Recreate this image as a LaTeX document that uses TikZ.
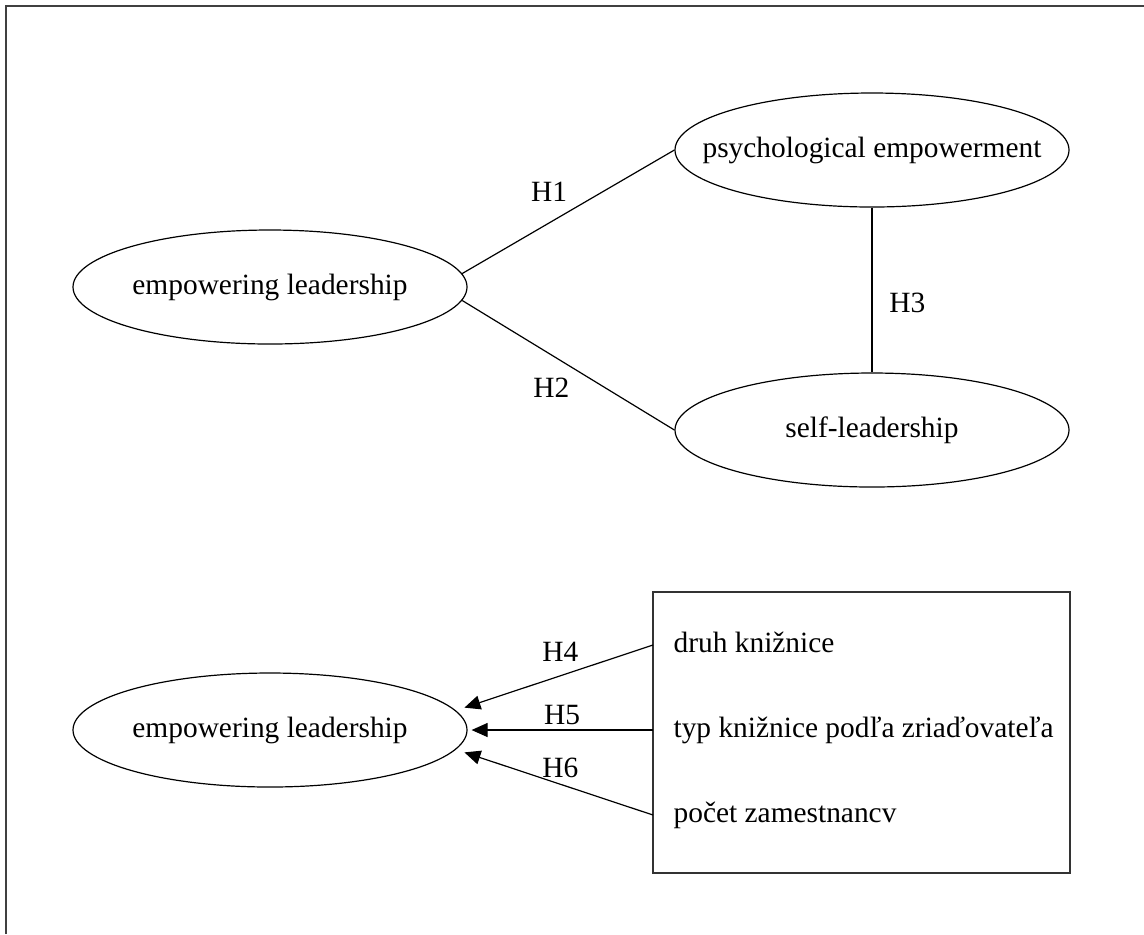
\documentclass[tikz,border=0pt]{standalone}
\usepackage{fontspec}
\setmainfont{Liberation Serif}
\usepackage{tikz}
\usetikzlibrary{positioning}
\usetikzlibrary{shapes}
\usetikzlibrary{arrows.meta}

\begin{document}
\begin{tikzpicture}[x=0.5pt,y=-0.5pt,line width=0.6pt,>={Triangle[length=8pt,width=7pt]},
		every node/.style={font=\fontsize{14.7}{17.6}\selectfont},
		construct/.style={ellipse,draw=black,on grid,inner sep=0pt,minimum width=197pt,minimum height=57pt},
		item/.style={anchor=west,inner xsep=10pt,text height=10.3pt,text depth=3.2pt}]
		\useasboundingbox (0,0) rectangle (1144,934);
		\draw[line width=0.9pt,black!75] (6,934) -- (6,6) -- (1144,6);
		
		\node[construct,label=center:{empowering leadership}]     (empL)  at (270,287) {};
		\node[construct,label=center:{psychological empowerment}] (psyE)  [above right=68.5pt and 301pt of empL] {};
		\node[construct,label=center:{self-leadership}]           (selfL) [below=140pt of psyE] {};
		\node[construct,label=center:{empowering leadership}]     (empL2) [below=221.5pt of empL] {};
		
		\node[draw,line width=0.9pt,black!80,inner sep=0pt,minimum width=208.5pt,minimum height=140.5pt] (attrs) at (861.5,732.5) {};
		\node[item] (druh)  at (653,645) {druh knižnice};
		\node[item] (typ)   at (653,730) {typ knižnice podľa zriaďovateľa};
		\node[item] (pocet) at (653,815) {počet zamestnancv};
		
		\draw (empL.4)  -- node[pos=0.41,above=7pt] (h1) {H1} (psyE.west);
		\draw (empL.-4) -- node[pos=0.42,below=8pt] (h2) {H2} (selfL.west);
		\draw (psyE.south) -- node[pos=0.58,right=5pt] (h3) {H3} (selfL.north);
		
		\path[->]
		(druh.west)  edge[shorten >=4.5pt] node[pos=0.47,above=3.5pt] (h4) {H4} (empL2.6)
		(typ.west)   edge[shorten >=2pt]   node[pos=0.49,above=-1pt]  (h5) {H5} (empL2.east)
		(pocet.west) edge[shorten >=4.5pt] node[pos=0.47,above=-0.5pt] (h6) {H6} (empL2.-6);
\end{tikzpicture}
\end{document}
